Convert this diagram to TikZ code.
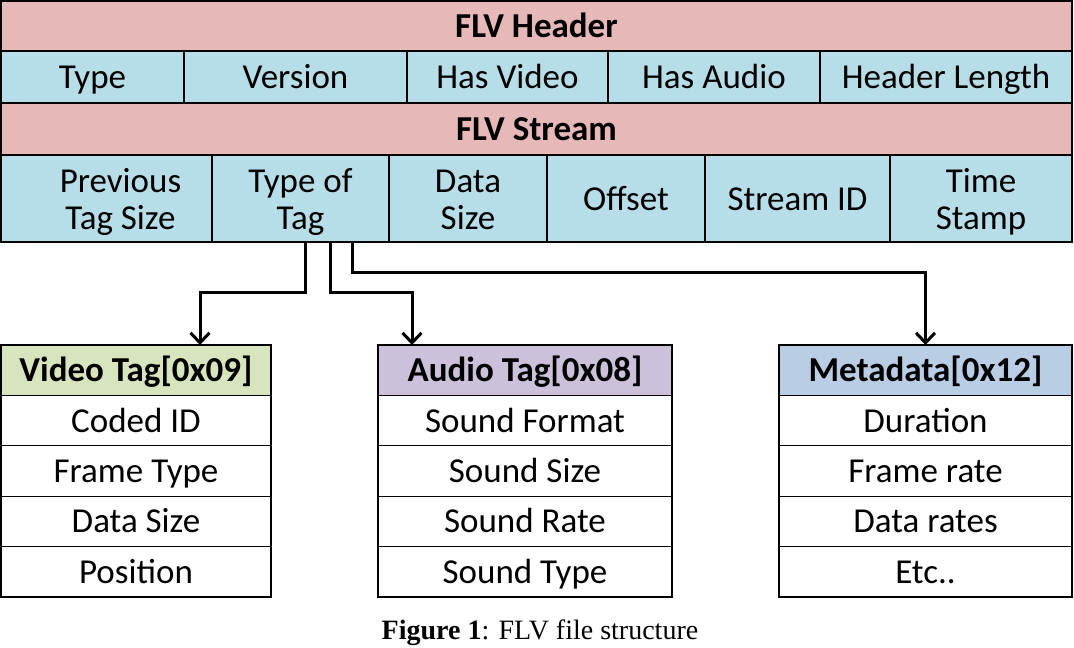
\documentclass[tikz,border=0pt]{standalone}
\usepackage{fontspec}
\setmainfont{Carlito}
\newfontfamily\captionfont{Liberation Serif}
\usepackage{xcolor}
\usetikzlibrary{arrows.meta,positioning}

\definecolor{bandpink}{HTML}{E6B9B8}
\definecolor{fieldblue}{HTML}{B7DEE8}
\definecolor{videogreen}{HTML}{D7E4BD}
\definecolor{audiopurple}{HTML}{CCC1DA}
\definecolor{metablue}{HTML}{B9CDE5}

% struts for the two-line cells
\newcommand{\cellup}{\rule{0pt}{33.5pt}}
\newcommand{\celldown}{\rule[-9pt]{0pt}{0pt}}

\begin{document}
\begin{tikzpicture}[
  x=1pt, y=-1pt,
  font=\fontsize{35}{37}\selectfont,
  node distance=0pt,
  oneline/.style={text height=32pt, text depth=9pt},
  band/.style={draw, line width=1.2pt, fill=bandpink, inner sep=0pt, outer sep=0pt,
               minimum width=1071pt, minimum height=52pt, oneline,
               font=\fontsize{35}{37}\selectfont\bfseries},
  field/.style={draw, line width=1.2pt, fill=fieldblue, inner sep=0pt, outer sep=0pt,
                minimum height=52pt, align=center},
  taghead/.style={draw, line width=1.2pt, inner sep=0pt, outer sep=0pt, oneline,
                  minimum height=50.4pt, font=\fontsize{35}{37}\selectfont\bfseries},
  tagrow/.style={draw, line width=1.2pt, fill=white, inner sep=0pt, outer sep=0pt,
                 minimum height=50.4pt, oneline},
  arr/.style={-{Straight Barb[length=10pt,width=19pt]}, line width=3pt}
]
\useasboundingbox (0,0) rectangle (1074,648);

\node[band, anchor=north west, minimum height=50pt] (flvheader) at (1,1) {FLV Header};

\node[field, oneline, minimum width=183pt, below right=0pt of flvheader.south west] (type)
  {Type};
\node[field, oneline, minimum width=223pt, right=of type] (version) {Version};
\node[field, oneline, minimum width=201pt, right=of version] (hasvideo) {Has Video};
\node[field, oneline, minimum width=212pt, right=of hasvideo] (hasaudio) {Has Audio};
\node[field, oneline, minimum width=252pt, right=of hasaudio] (headerlen) {Header Length};

\node[band, below right=0pt of type.south west] (flvstream) {FLV Stream};

\node[field, minimum width=211pt, minimum height=87pt,
      below right=0pt of flvstream.south west] (prevsize)
  {\hspace*{28pt}\cellup Previous\\\hspace*{28pt}Tag Size\celldown};
\node[field, minimum width=177pt, minimum height=87pt, right=of prevsize] (typeoftag)
  {\cellup Type of\\Tag\celldown};
\node[field, minimum width=158pt, minimum height=87pt, right=of typeoftag] (datasize)
  {\cellup Data\\Size\celldown};
\node[field, oneline, minimum width=158pt, minimum height=87pt, right=of datasize] (offset)
  {Offset};
\node[field, oneline, minimum width=185pt, minimum height=87pt, right=of offset] (streamid)
  {Stream ID};
\node[field, minimum width=182pt, minimum height=87pt, right=of streamid] (timestamp)
  {\cellup Time\\Stamp\celldown};

\node[taghead, fill=videogreen, minimum width=270pt, anchor=north west] (videotag)
  at (1,345) {Video Tag[0x09]};
\node[tagrow, minimum width=270pt, below=of videotag] (codedid) {Coded ID};
\node[tagrow, minimum width=270pt, below=of codedid] (frametype) {Frame Type};
\node[tagrow, minimum width=270pt, below=of frametype] (vdatasize) {Data Size};
\node[tagrow, minimum width=270pt, below=of vdatasize] (position) {Position};

\node[taghead, fill=audiopurple, minimum width=294pt, anchor=north west] (audiotag)
  at (378,345) {Audio Tag[0x08]};
\node[tagrow, minimum width=294pt, below=of audiotag] (soundformat) {Sound Format};
\node[tagrow, minimum width=294pt, below=of soundformat] (soundsize) {Sound Size};
\node[tagrow, minimum width=294pt, below=of soundsize] (soundrate) {Sound Rate};
\node[tagrow, minimum width=294pt, below=of soundrate] (soundtype) {Sound Type};

\node[taghead, fill=metablue, minimum width=293pt, anchor=north west] (metatag)
  at (779,345) {Metadata[0x12]};
\node[tagrow, minimum width=293pt, below=of metatag] (duration) {Duration};
\node[tagrow, minimum width=293pt, below=of duration] (framerate) {Frame rate};
\node[tagrow, minimum width=293pt, below=of framerate] (datarates) {Data rates};
\node[tagrow, minimum width=293pt, below=of datarates] (etc) {Etc..};

\draw[arr] ([xshift=4.5pt]typeoftag.south) -- ++(0,50) -| ([xshift=64pt]videotag.north);
\draw[arr] ([xshift=29.5pt]typeoftag.south) -- ++(0,50) -| ([xshift=-113pt]audiotag.north);
\draw[arr] ([xshift=51.5pt]typeoftag.south) -- ++(0,30) -| (metatag.north);

\node[font=\captionfont\fontsize{28}{32}\selectfont] (caption) at (540,633)
  {\textbf{Figure 1}: FLV file structure};

\end{tikzpicture}
\end{document}
